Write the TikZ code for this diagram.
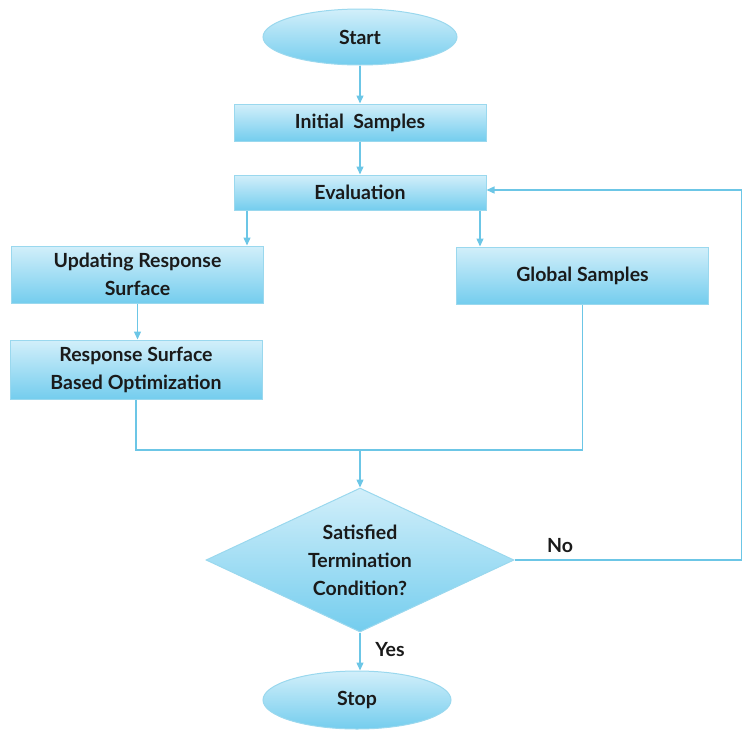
\documentclass[tikz,border=0pt]{standalone}
\usepackage{fontspec}
\setmainfont{Lato}
\usetikzlibrary{shapes.geometric,arrows.meta}
\definecolor{edgeblue}{HTML}{6CC6E6}
\definecolor{boxtop}{HTML}{D2EFFA}
\definecolor{boxbot}{HTML}{74CDEE}
\definecolor{boxline}{HTML}{9AD8EE}
\definecolor{ink}{HTML}{1A1A1A}
\tikzset{
  base/.style={draw=boxline, line width=1pt, top color=boxtop, bottom color=boxbot,
    text=ink, font=\fontsize{19.5}{28}\selectfont\bfseries, align=center, inner sep=0pt},
  procbox/.style={base, rectangle, minimum width=252pt},
  term/.style={base, ellipse, minimum width=194pt, minimum height=56pt},
  decide/.style={base, diamond, aspect=2.2, minimum width=308pt, minimum height=144pt},
  flow/.style={draw=edgeblue, line width=1.3pt},
  arr/.style={flow, -{Triangle[length=8pt,width=7pt]}},
  lbl/.style={text=ink, font=\fontsize{19.5}{22}\selectfont\bfseries, inner sep=0pt}
}
\begin{document}
\begin{tikzpicture}[x=1pt,y=-1pt]
\useasboundingbox (0,0) rectangle (742,729);

\node[term] (start) at (360,37) {Start};
\node[procbox, minimum height=37pt] (init) at (360,122.5) {Initial\ \ Samples};
\node[procbox, minimum height=35pt] (eval) at (360,192.5) {Evaluation};
\node[procbox, minimum height=57pt] (upd) at (137.5,274.5) {Updating Response\\Surface};
\node[procbox, minimum height=59pt] (rsbo) at (136,369.5) {Response Surface\\Based Optimization};
\node[procbox, minimum height=57pt] (glob) at (582.5,275.5) {Global Samples};
\node[decide] (cond) at (360,560) {Satisfied\\Termination\\Condition?};
\node[term, minimum width=188pt, minimum height=58pt] (stop) at (357,700) {Stop};

\coordinate (join) at (360,450);
\coordinate (rcorner) at (741.5,560);
\coordinate (rtop) at (741.5,190);

\draw[arr] (start) -- (init);
\draw[arr] (init) -- (eval);
\draw[arr] (eval.south -| 247,0) -- (upd.north -| 247,0);
\draw[arr] (eval.south -| 480,0) -- (glob.north -| 480,0);
\draw[arr] (upd) -- (upd.south |- rsbo.north);
\draw[flow] (rsbo.south) -- (rsbo.south |- join) -- (glob.south |- join) -- (glob.south);
\draw[arr] (join) -- (cond.north);
\draw[arr] (cond.south) -- (stop.north -| cond.south);
\draw[flow] (cond.east) -- (rcorner) -- (rtop);
\draw[arr] (rtop) -- (eval.east |- rtop);

\node[lbl] (no) at (560,546) {No};
\node[lbl] (yes) at (390,650) {Yes};
\end{tikzpicture}
\end{document}
